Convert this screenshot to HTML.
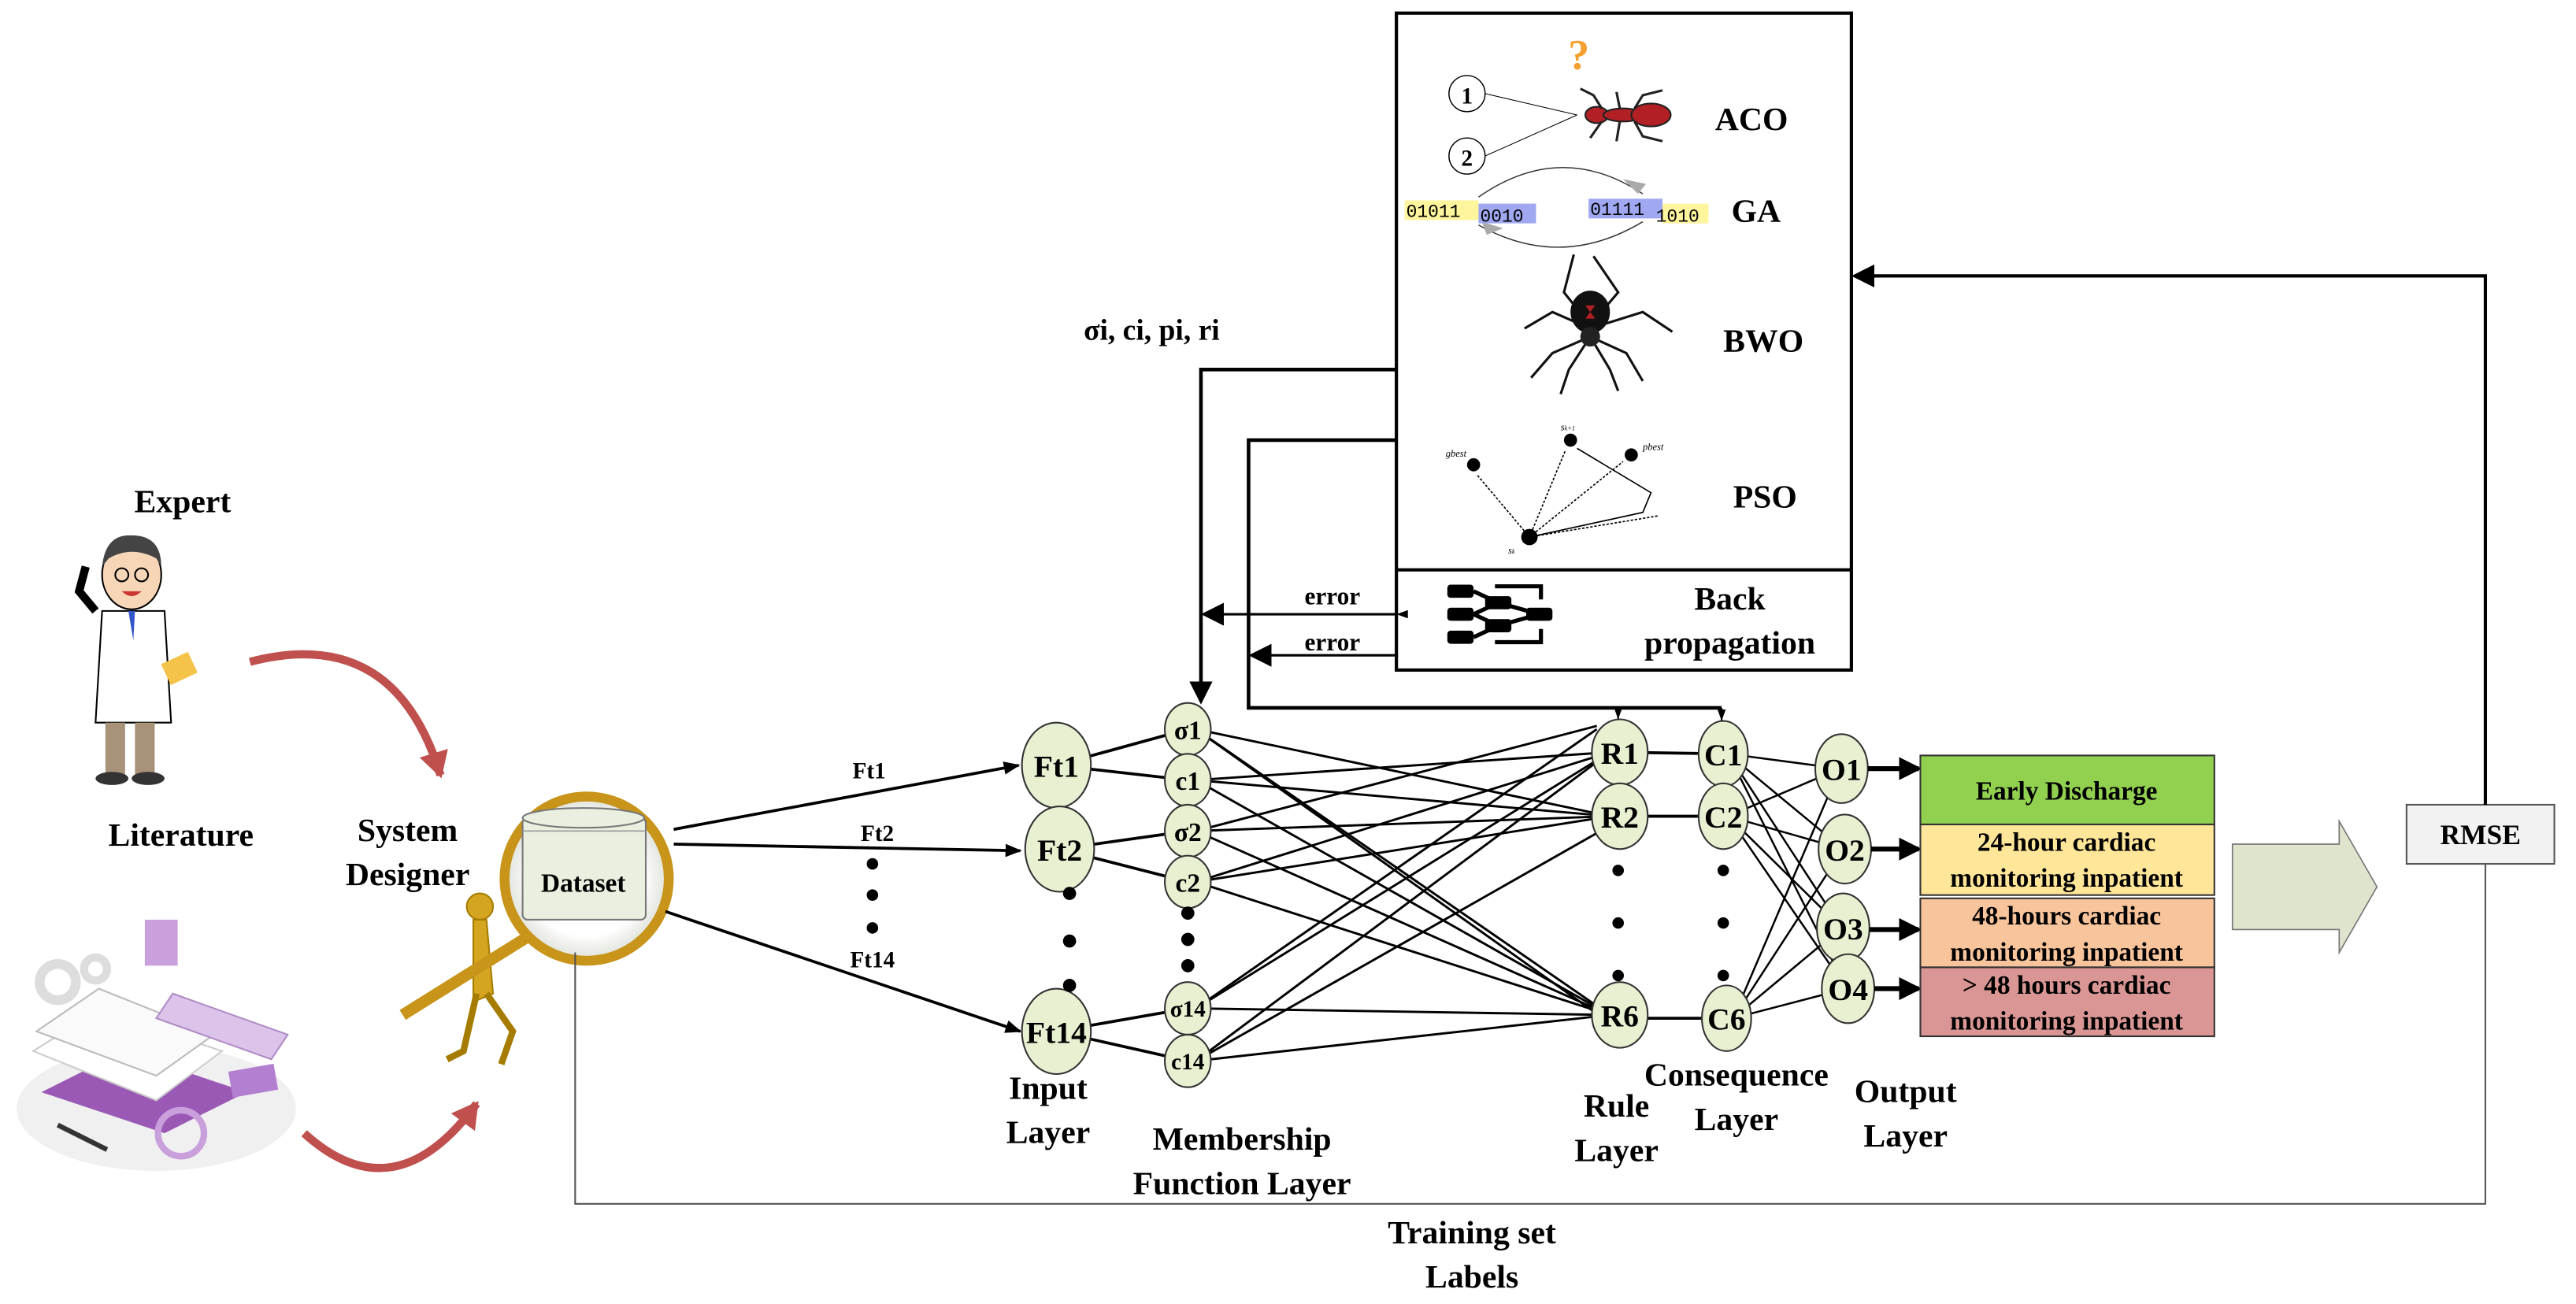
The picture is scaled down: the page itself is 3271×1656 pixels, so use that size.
<!DOCTYPE html>
<html><head><meta charset="utf-8"><style>
html,body{margin:0;padding:0;background:#fff;}
svg{display:block;}
text{font-family:"Liberation Serif",serif;font-weight:bold;fill:#000;}
</style></head><body>
<svg width="3271" height="1656" viewBox="0 0 1568 794" xmlns="http://www.w3.org/2000/svg">
<defs>
<marker id="ah" markerWidth="10" markerHeight="8" refX="9" refY="4" orient="auto" markerUnits="userSpaceOnUse"><path d="M0,0 L10,4 L0,8 z" fill="#000"/></marker>
<marker id="ahs" markerWidth="7" markerHeight="5" refX="7" refY="2.5" orient="auto" markerUnits="userSpaceOnUse"><path d="M0,0 L7,2.5 L0,5 z" fill="#000"/></marker>
<marker id="ahb" markerWidth="14" markerHeight="14" refX="12" refY="7" orient="auto" markerUnits="userSpaceOnUse"><path d="M0,0 L14,7 L0,14 z" fill="#000"/></marker>
<marker id="ahr" markerWidth="16" markerHeight="18" refX="14" refY="9" orient="auto" markerUnits="userSpaceOnUse"><path d="M0,0 L16,9 L0,18 z" fill="#c0504d"/></marker>
<radialGradient id="lens" cx="50%" cy="50%" r="50%"><stop offset="70%" stop-color="#fff"/><stop offset="100%" stop-color="#dde0d8"/></radialGradient>
</defs>

<!-- Left: Expert -->
<text x="111" y="312" font-size="20" text-anchor="middle">Expert</text>
<!-- doctor -->
<g>
<ellipse cx="80" cy="350" rx="18" ry="21" fill="#f7d6b8" stroke="#000" stroke-width="1"/>
<path d="M62,345 Q64,325 80,326 Q98,326 98,345 L95,340 Q80,332 66,340 z" fill="#444"/>
<circle cx="74" cy="350" r="4" fill="none" stroke="#000"/><circle cx="86" cy="350" r="4" fill="none" stroke="#000"/>
<path d="M74,360 Q80,366 86,360 z" fill="#c33"/>
<path d="M62,372 L100,372 L104,440 L58,440 z" fill="#fff" stroke="#000"/>
<path d="M78,372 L82,372 L81,390 z" fill="#35c"/>
<path d="M58,372 L48,360 L52,345" fill="none" stroke="#000" stroke-width="5"/>
<rect x="100" y="400" width="18" height="14" fill="#f5c24a" transform="rotate(-25 109 407)"/>
<rect x="64" y="440" width="12" height="32" fill="#a89279"/><rect x="82" y="440" width="12" height="32" fill="#a89279"/>
<ellipse cx="68" cy="474" rx="10" ry="4" fill="#333"/><ellipse cx="90" cy="474" rx="10" ry="4" fill="#333"/>
</g>
<text x="110" y="515" font-size="20" text-anchor="middle">Literature</text>
<!-- books clipart -->
<g>
<ellipse cx="95" cy="675" rx="85" ry="38" fill="#f0f0f0"/>
<circle cx="35" cy="598" r="11" fill="none" stroke="#ddd" stroke-width="6"/>
<circle cx="58" cy="590" r="7" fill="none" stroke="#ddd" stroke-width="5"/>
<rect x="88" y="560" width="20" height="28" fill="#c9a0dc"/>
<path d="M25,665 L100,690 L150,665 L75,640 z" fill="#9b59b6"/>
<path d="M20,640 L95,670 L135,640 L60,615 z" fill="#fff" stroke="#ccc"/>
<path d="M22,628 L95,655 L130,630 L60,602 z" fill="#fafafa" stroke="#bbb"/>
<path d="M95,620 L165,645 L175,630 L105,605 z" fill="#dcc3ea" stroke="#b08cc6"/>
<rect x="140" y="650" width="28" height="16" fill="#b37fd0" transform="rotate(-10 154 658)"/>
<circle cx="110" cy="690" r="14" fill="none" stroke="#c9a0dc" stroke-width="4"/>
<line x1="35" y1="685" x2="65" y2="700" stroke="#333" stroke-width="3"/>
</g>
<!-- red curved arrows -->
<path d="M152,403 Q240,380 268,472" fill="none" stroke="#c0504d" stroke-width="5" marker-end="url(#ahr)"/>
<path d="M185,690 Q240,740 290,672" fill="none" stroke="#c0504d" stroke-width="5" marker-end="url(#ahr)"/>

<!-- System Designer -->
<text x="248" y="512" font-size="20" text-anchor="middle">System</text>
<text x="248" y="539" font-size="20" text-anchor="middle">Designer</text>
<g fill="#d4a520" stroke="#a67c00" stroke-width="1">
<circle cx="292" cy="552" r="8"/>
<path d="M288,560 L296,560 L300,605 L288,610 z"/>
<path d="M290,605 L282,640 L272,645" fill="none" stroke-width="4"/>
<path d="M296,605 L312,628 L305,648" fill="none" stroke-width="4"/>
<line x1="245" y1="618" x2="325" y2="568" stroke-width="7" stroke="#c8941a"/>
</g>
<!-- magnifier -->
<circle cx="357" cy="535" r="50" fill="url(#lens)" stroke="#c8941a" stroke-width="6"/>
<rect x="318" y="498" width="75" height="62" rx="3" fill="#eaf0e0" stroke="#777" stroke-width="1"/>
<ellipse cx="355" cy="498" rx="37" ry="6" fill="#eaf0e0" stroke="#777" stroke-width="1"/>
<line x1="318" y1="506" x2="393" y2="506" stroke="#999" stroke-width="0.8"/>
<text x="355" y="543" font-size="16" text-anchor="middle">Dataset</text>

<!-- dataset to inputs -->
<line x1="410" y1="505" x2="620" y2="466" stroke="#000" stroke-width="1.8" marker-end="url(#ah)"/>
<line x1="410" y1="514" x2="621" y2="518" stroke="#000" stroke-width="1.8" marker-end="url(#ah)"/>
<line x1="405" y1="555" x2="621" y2="628" stroke="#000" stroke-width="1.8" marker-end="url(#ah)"/>
<text x="529" y="474" font-size="14" text-anchor="middle">Ft1</text>
<text x="534" y="512" font-size="14" text-anchor="middle">Ft2</text>
<text x="531" y="589" font-size="14" text-anchor="middle">Ft14</text>
<circle cx="531" cy="526" r="3.5"/><circle cx="531" cy="545" r="3.5"/><circle cx="531" cy="565" r="3.5"/>

<!-- training line -->
<polyline points="350,580 350,733 1513,733 1513,526" fill="none" stroke="#555" stroke-width="1"/>
<text x="896" y="757" font-size="20" text-anchor="middle">Training set</text>
<text x="896" y="784" font-size="20" text-anchor="middle">Labels</text>

<!-- edges -->
<g stroke="#000" stroke-width="1.8" fill="none">
<line x1="643" y1="466" x2="723" y2="444"/><line x1="643" y1="466" x2="723" y2="475"/>
<line x1="645" y1="517" x2="723" y2="506"/><line x1="645" y1="517" x2="723" y2="537"/>
<line x1="643" y1="628" x2="723" y2="614"/><line x1="643" y1="628" x2="723" y2="646"/>
</g>
<g stroke="#000" stroke-width="1.4" fill="none">
<line x1="728" y1="444" x2="980" y2="497"/><line x1="728" y1="444" x2="980" y2="618"/><line x1="728" y1="444" x2="990" y2="630"/>
<line x1="728" y1="475" x2="980" y2="458"/><line x1="728" y1="475" x2="980" y2="497"/><line x1="728" y1="475" x2="980" y2="618"/>
<line x1="728" y1="506" x2="972" y2="442"/><line x1="728" y1="506" x2="980" y2="497"/><line x1="728" y1="506" x2="980" y2="618"/>
<line x1="728" y1="537" x2="980" y2="458"/><line x1="728" y1="537" x2="980" y2="497"/><line x1="728" y1="537" x2="980" y2="618"/>
<line x1="728" y1="614" x2="972" y2="444"/><line x1="728" y1="614" x2="980" y2="458"/><line x1="728" y1="614" x2="980" y2="618"/>
<line x1="728" y1="646" x2="980" y2="458"/><line x1="728" y1="646" x2="976" y2="505"/><line x1="728" y1="646" x2="980" y2="618"/>
</g>
<g stroke="#000" stroke-width="1.8">
<line x1="985" y1="458" x2="1048" y2="459"/><line x1="986" y1="497" x2="1048" y2="497"/><line x1="986" y1="620" x2="1051" y2="620"/>
</g>
<g stroke="#000" stroke-width="1.2">
<line x1="1052" y1="459" x2="1120" y2="468"/><line x1="1052" y1="459" x2="1122" y2="517"/><line x1="1052" y1="459" x2="1121" y2="565"/><line x1="1052" y1="459" x2="1124" y2="602"/>
<line x1="1052" y1="497" x2="1120" y2="468"/><line x1="1052" y1="497" x2="1122" y2="517"/><line x1="1052" y1="497" x2="1121" y2="565"/><line x1="1052" y1="497" x2="1124" y2="602"/>
<line x1="1055" y1="620" x2="1120" y2="468"/><line x1="1055" y1="620" x2="1122" y2="517"/><line x1="1055" y1="620" x2="1121" y2="565"/><line x1="1055" y1="620" x2="1124" y2="602"/>
</g>

<!-- nodes -->
<g fill="#e8f0d2" stroke="#333" stroke-width="1">
<ellipse cx="643" cy="466" rx="21" ry="26"/><ellipse cx="645" cy="517" rx="21" ry="26"/><ellipse cx="643" cy="628" rx="21" ry="26"/>
<ellipse cx="723" cy="444" rx="14" ry="16"/><ellipse cx="723" cy="475" rx="14" ry="16"/><ellipse cx="723" cy="506" rx="14" ry="16"/><ellipse cx="723" cy="537" rx="14" ry="16"/><ellipse cx="723" cy="614" rx="14" ry="16"/><ellipse cx="723" cy="646" rx="14" ry="16"/>
<ellipse cx="986" cy="458" rx="17" ry="20"/><ellipse cx="986" cy="497" rx="17" ry="20"/><ellipse cx="986" cy="618" rx="17" ry="20"/>
<ellipse cx="1049" cy="459" rx="15" ry="20"/><ellipse cx="1049" cy="497" rx="15" ry="20"/><ellipse cx="1051" cy="620" rx="15" ry="20"/>
<ellipse cx="1121" cy="468" rx="16" ry="21"/><ellipse cx="1123" cy="517" rx="16" ry="21"/><ellipse cx="1122" cy="565" rx="16" ry="21"/><ellipse cx="1125" cy="602" rx="16" ry="21"/>
</g>
<g font-size="19" text-anchor="middle">
<text x="643" y="473">Ft1</text><text x="645" y="524">Ft2</text><text x="643" y="635">Ft14</text>
<text x="723" y="450" font-size="16">σ1</text><text x="723" y="481" font-size="16">c1</text><text x="723" y="512" font-size="16">σ2</text><text x="723" y="543" font-size="16">c2</text><text x="723" y="619" font-size="14">σ14</text><text x="723" y="651" font-size="14">c14</text>
<text x="986" y="465">R1</text><text x="986" y="504">R2</text><text x="986" y="625">R6</text>
<text x="1049" y="466">C1</text><text x="1049" y="504">C2</text><text x="1051" y="627">C6</text>
<text x="1121" y="475">O1</text><text x="1123" y="524">O2</text><text x="1122" y="572">O3</text><text x="1125" y="609">O4</text>
</g>
<g>
<circle cx="651" cy="544" r="4"/><circle cx="651" cy="573" r="4"/><circle cx="651" cy="600" r="4"/>
<circle cx="723" cy="556" r="4"/><circle cx="723" cy="572" r="4"/><circle cx="723" cy="588" r="4"/>
<circle cx="985" cy="530" r="3.5"/><circle cx="985" cy="562" r="3.5"/><circle cx="985" cy="594" r="3.5"/>
<circle cx="1049" cy="530" r="3.5"/><circle cx="1049" cy="562" r="3.5"/><circle cx="1049" cy="594" r="3.5"/>
</g>
<g font-size="20" text-anchor="middle">
<text x="638" y="669">Input</text><text x="638" y="696">Layer</text>
<text x="756" y="700">Membership</text><text x="756" y="727">Function Layer</text>
<text x="984" y="680">Rule</text><text x="984" y="707">Layer</text>
<text x="1057" y="661">Consequence</text><text x="1057" y="688">Layer</text>
<text x="1160" y="671">Output</text><text x="1160" y="698">Layer</text>
</g>

<!-- output arrows -->
<g stroke="#000" stroke-width="3">
<line x1="1137" y1="468" x2="1168" y2="468" marker-end="url(#ahb)"/>
<line x1="1139" y1="517" x2="1168" y2="517" marker-end="url(#ahb)"/>
<line x1="1138" y1="566" x2="1168" y2="566" marker-end="url(#ahb)"/>
<line x1="1141" y1="602" x2="1168" y2="602" marker-end="url(#ahb)"/>
</g>
<!-- output boxes -->
<g stroke="#333" stroke-width="1">
<rect x="1169" y="460" width="179" height="42" fill="#92d050"/>
<rect x="1169" y="502" width="179" height="43" fill="#ffe699"/>
<rect x="1169" y="547" width="179" height="42" fill="#f8c49c"/>
<rect x="1169" y="589" width="179" height="42" fill="#d99694"/>
</g>
<g font-size="16" text-anchor="middle">
<text x="1258" y="487">Early Discharge</text>
<text x="1258" y="518">24-hour cardiac</text><text x="1258" y="540">monitoring inpatient</text>
<text x="1258" y="563">48-hours cardiac</text><text x="1258" y="585">monitoring inpatient</text>
<text x="1258" y="605">&gt; 48 hours cardiac</text><text x="1258" y="627">monitoring inpatient</text>
</g>
<!-- big arrow -->
<path d="M1359,514 L1424,514 L1424,500 L1447,540 L1424,580 L1424,566 L1359,566 z" fill="#dfe4cc" stroke="#777" stroke-width="0.8"/>
<!-- RMSE -->
<rect x="1465" y="490" width="90" height="36" fill="#f2f2f2" stroke="#555" stroke-width="1"/>
<text x="1510" y="514" font-size="17" text-anchor="middle">RMSE</text>
<polyline points="1513,490 1513,168 1129,168" fill="none" stroke="#000" stroke-width="2" marker-end="url(#ahb)"/>

<!-- algorithm box -->
<rect x="850" y="8" width="277" height="400" fill="#fff" stroke="#000" stroke-width="2"/>
<line x1="850" y1="347" x2="1127" y2="347" stroke="#000" stroke-width="2"/>
<g font-size="20">
<text x="1044" y="79">ACO</text><text x="1054" y="135">GA</text><text x="1049" y="214">BWO</text><text x="1055" y="309">PSO</text>
<text x="1053" y="371" text-anchor="middle">Back</text><text x="1053" y="398" text-anchor="middle">propagation</text>
</g>
<!-- ACO -->
<text x="961" y="42" font-size="26" fill="#f5a030" style="fill:#f5a030" text-anchor="middle">?</text>
<circle cx="893" cy="57" r="11" fill="#fff" stroke="#000" stroke-width="0.7"/><text x="893" y="63" font-size="14" text-anchor="middle">1</text>
<circle cx="893" cy="95" r="11" fill="#fff" stroke="#000" stroke-width="0.7"/><text x="893" y="101" font-size="14" text-anchor="middle">2</text>
<line x1="904" y1="57" x2="960" y2="70" stroke="#000" stroke-width="0.5"/><line x1="904" y1="95" x2="960" y2="70" stroke="#000" stroke-width="0.5"/>
<g fill="#b22025" stroke="#222" stroke-width="1">
<ellipse cx="972" cy="70" rx="7" ry="5"/><ellipse cx="988" cy="70" rx="12" ry="4"/><ellipse cx="1005" cy="70" rx="12" ry="7"/>
</g>
<g stroke="#222" stroke-width="1.5" fill="none">
<path d="M975,66 L970,58 L962,54"/><path d="M986,66 L984,56"/><path d="M995,66 L1000,58 L1012,55"/>
<path d="M975,74 L968,84"/><path d="M986,74 L984,86"/><path d="M995,74 L1000,83 L1012,86"/>
</g>
<!-- GA -->
<path d="M900,120 Q950,85 1000,118" fill="none" stroke="#333" stroke-width="0.7"/>
<path d="M997,118 L1002,112 L988,109 z" fill="#aaa"/>
<path d="M1000,135 Q950,165 900,137" fill="none" stroke="#333" stroke-width="0.7"/>
<path d="M902,135 L905,143 L915,139 z" fill="#aaa"/>
<g font-family="Liberation Mono" font-size="11">
<rect x="855" y="122" width="45" height="12" fill="#fff59d"/><text x="856" y="132" style="font-family:'Liberation Mono',monospace;font-weight:normal">01011</text>
<rect x="900" y="124" width="35" height="12" fill="#9fa8f0"/><text x="901" y="135" style="font-family:'Liberation Mono',monospace;font-weight:normal">0010</text>
<rect x="967" y="121" width="45" height="12" fill="#9fa8f0"/><text x="968" y="131" style="font-family:'Liberation Mono',monospace;font-weight:normal">01111</text>
<rect x="986" y="124" width="0" height="0"/>
<rect x="1012" y="124" width="28" height="12" fill="#fff59d"/><text x="1008" y="135" style="font-family:'Liberation Mono',monospace;font-weight:normal">1010</text>
</g>
<!-- spider -->
<g stroke="#111" stroke-width="1.5" fill="none">
<path d="M968,200 L945,190 L928,200"/><path d="M968,200 L1000,190 L1018,202"/>
<path d="M968,198 L952,178 L958,155"/><path d="M968,198 L985,178 L970,156"/>
<path d="M968,205 L945,215 L932,230"/><path d="M968,205 L990,215 L1000,232"/>
<path d="M968,205 L955,225 L950,240"/><path d="M968,205 L980,225 L985,238"/>
</g>
<ellipse cx="968" cy="190" rx="12" ry="13" fill="#111"/><path d="M965,186 L971,186 L968,190 L971,194 L965,194 L968,190z" fill="#b22025"/>
<ellipse cx="968" cy="205" rx="6" ry="6" fill="#222"/>
<!-- PSO -->
<g fill="#000">
<circle cx="897" cy="283" r="4"/><circle cx="956" cy="268" r="4"/><circle cx="993" cy="277" r="4"/><circle cx="931" cy="327" r="5"/>
</g>
<g stroke="#000" stroke-width="0.8" stroke-dasharray="1.5,1" fill="none">
<line x1="931" y1="327" x2="899" y2="289"/><line x1="931" y1="327" x2="953" y2="274"/><line x1="931" y1="327" x2="988" y2="281"/><line x1="931" y1="327" x2="1010" y2="314"/>
</g>
<polyline points="931,327 1000,312 1005,300 960,273" fill="none" stroke="#000" stroke-width="0.8"/>
<g font-size="6" font-style="italic" style="font-weight:normal">
<text x="880" y="278" style="font-weight:normal;font-style:italic">gbest</text><text x="1000" y="274" style="font-weight:normal;font-style:italic">pbest</text>
<text x="950" y="262" style="font-weight:normal;font-style:italic">s<tspan font-size="4">k+1</tspan></text><text x="918" y="337" style="font-weight:normal;font-style:italic">s<tspan font-size="4">k</tspan></text>
</g>
<!-- back propagation icon -->
<g fill="#000">
<rect x="881" y="356" width="16" height="8" rx="2"/><rect x="881" y="370" width="16" height="8" rx="2"/><rect x="881" y="384" width="16" height="8" rx="2"/>
<rect x="904" y="363" width="16" height="8" rx="2"/><rect x="904" y="377" width="16" height="8" rx="2"/>
<rect x="929" y="370" width="16" height="8" rx="2"/>
</g>
<g stroke="#000" stroke-width="2.5" fill="none">
<path d="M897,360 L912,367 L937,374 L912,381 L897,388"/><path d="M897,374 L912,367 M897,374 L912,381"/>
<path d="M910,357 L938,357 L938,365"/><path d="M910,391 L938,391 L938,383"/>
</g>

<!-- feedback lines -->
<text x="701" y="207" font-size="18" text-anchor="middle">σi, ci, pi, ri</text>
<polyline points="850,225 731,225 731,427" fill="none" stroke="#000" stroke-width="2.2" marker-end="url(#ahb)"/>
<polyline points="850,268 760,268 760,431 1048,431" fill="none" stroke="#000" stroke-width="2.2"/>
<line x1="985" y1="431" x2="985" y2="438" stroke="#000" stroke-width="1" marker-end="url(#ahs)"/>
<line x1="1048" y1="431" x2="1048" y2="439" stroke="#000" stroke-width="1" marker-end="url(#ahs)"/>
<line x1="850" y1="374" x2="733" y2="374" stroke="#000" stroke-width="1.5" marker-end="url(#ahb)" marker-start="url(#ahs)"/>
<line x1="850" y1="399" x2="762" y2="399" stroke="#000" stroke-width="1.5" marker-end="url(#ahb)"/>
<text x="811" y="368" font-size="15" text-anchor="middle">error</text>
<text x="811" y="396" font-size="15" text-anchor="middle">error</text>
</svg>
</body></html>
